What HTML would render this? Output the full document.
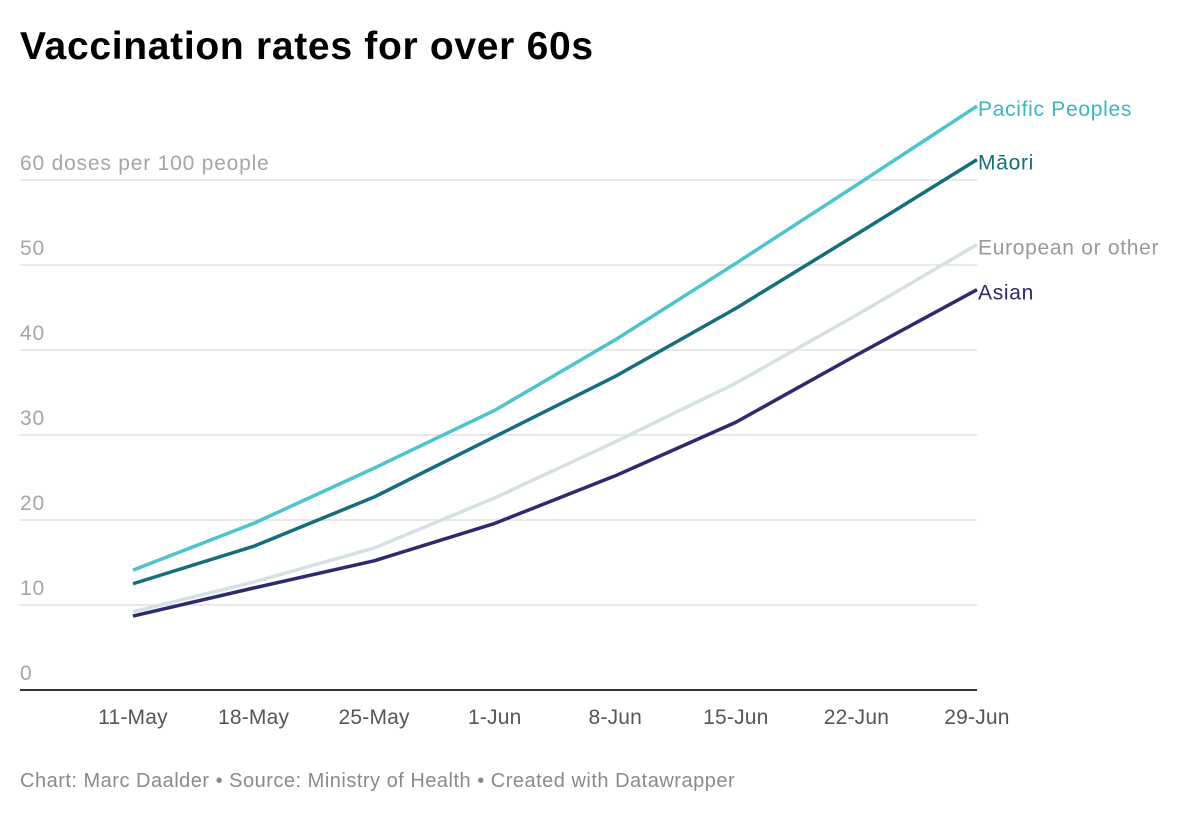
<!DOCTYPE html>
<html><head><meta charset="utf-8"><style>
body{margin:0;background:#fff;width:1200px;height:813px;overflow:hidden;font-family:"Liberation Sans",sans-serif;}
</style></head><body>
<svg width="1200" height="813">
<text x="20" y="59" font-size="39" font-weight="bold" letter-spacing="0.7" fill="#000">Vaccination rates for over 60s</text>
<g id="grid"></g><g id="lines"></g>
<text x="20" y="787" font-size="20" letter-spacing="0.5" fill="#8a8a8a">Chart: Marc Daalder • Source: Ministry of Health • Created with Datawrapper</text>
</svg>
<script>
const categories=["11-May","18-May","25-May","1-Jun","8-Jun","15-Jun","22-Jun","29-Jun"];
const pacific=[14.1,19.6,26.1,32.9,41.2,50.2,59.4,68.7];
const maori=[12.5,16.9,22.7,29.8,36.9,44.9,53.6,62.4];
const european=[9.2,12.7,16.7,22.6,29.2,36.1,44.1,52.4];
const asian=[8.7,12.0,15.2,19.6,25.2,31.5,39.4,47.1];
const yTicks=[0,10,20,30,40,50,60];
const yTickLabels=["0","10","20","30","40","50","60 doses per 100 people"];
const NS="http://www.w3.org/2000/svg";
const x=i=>133+i*(977-133)/(categories.length-1);
const y=v=>690-v*8.5;
const grid=document.getElementById('grid'),lines=document.getElementById('lines');
function mk(tag,attrs,parent,text){const e=document.createElementNS(NS,tag);for(const k in attrs)e.setAttribute(k,attrs[k]);if(text!==undefined)e.textContent=text;parent.appendChild(e);return e;}
yTicks.forEach((t,i)=>{
 if(t>0){const l=mk('line',{x1:20,x2:977,y1:y(t),y2:y(t),stroke:'#e0e0e0','stroke-width':1.5},grid);
 
 }
 const tx=mk('text',{x:20,y:y(t)-10,'font-size':21,'letter-spacing':0.8,fill:'#a5a5a5'},grid,yTickLabels[i]);
 
 
});
const ax=mk('line',{x1:20,x2:977,y1:690,y2:690,stroke:'#333','stroke-width':2},grid);


categories.forEach((c,i)=>{
 const t=mk('text',{x:x(i),y:724,'font-size':21,'letter-spacing':0.2,fill:'#555','text-anchor':'middle'},grid,c);
 
 
});
const series=[["European or other",european,"#d5e0e4","#999"],["Asian",asian,"#2e2a6b","#2e2a6b"],["Māori",maori,"#156e7c","#156e7c"],["Pacific Peoples",pacific,"#4cc3cd","#3bb5bf"]];
series.forEach(([name,d,col,lc])=>{
 const p=mk('polyline',{points:d.map((v,i)=>x(i)+','+y(v)).join(' '),fill:'none',stroke:col,'stroke-width':3.5,'stroke-linejoin':'round'},lines);
 
 
 const t=mk('text',{x:978,y:y(d[d.length-1])+10,'font-size':21,'letter-spacing':0.7,fill:lc},lines,name);
 
 
});
</script>
</body></html>
